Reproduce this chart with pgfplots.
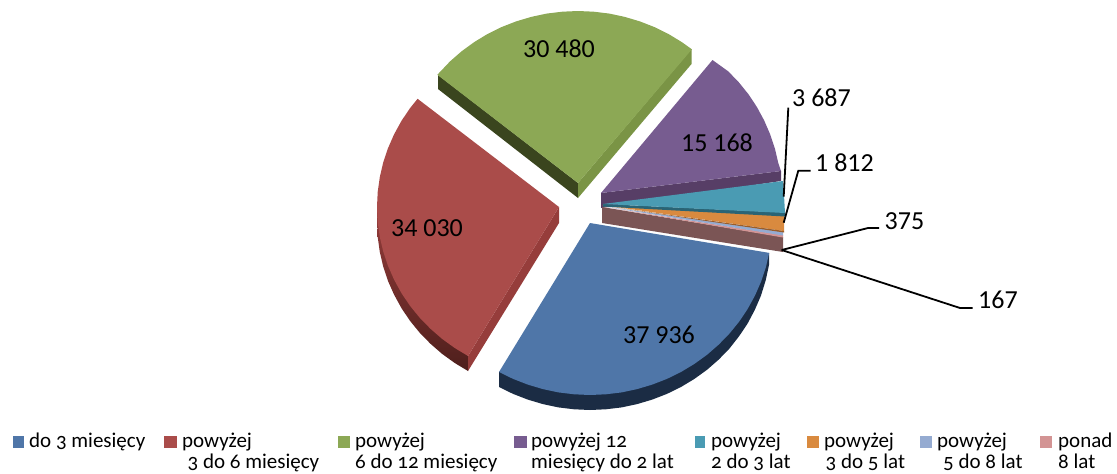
\documentclass[border=0pt]{standalone}
\usepackage{pgfplots}
\pgfplotsset{compat=1.18}
\usepackage{fontspec}
\setmainfont{Carlito}
\newfontfamily\legfont[Numbers=OldStyle]{Carlito}
\definecolor{cblue}{HTML}{4F76A8}
\definecolor{cblueS}{HTML}{1B2C44}
\definecolor{cred}{HTML}{AA4C4A}
\definecolor{credC}{HTML}{963D3B}
\definecolor{credD}{HTML}{4E1F1C}
\definecolor{cgreen}{HTML}{8CA855}
\definecolor{cgreenD}{HTML}{3A451E}
\definecolor{cgreenC}{HTML}{7A9445}
\definecolor{cpurple}{HTML}{775C90}
\definecolor{cpurpleS}{HTML}{573E66}
\definecolor{cteal}{HTML}{4A9BB3}
\definecolor{ctealS}{HTML}{2A6475}
\definecolor{corange}{HTML}{D98A3F}
\definecolor{corangeS}{HTML}{9A5D2A}
\definecolor{clblue}{HTML}{95ABD1}
\definecolor{cpink}{HTML}{D39494}
\definecolor{cbrown}{HTML}{7B5555}
\newcommand{\lab}[3]{\node[inner sep=0pt,anchor=center,font=\fontsize{26}{28}\selectfont,text=black] at (axis cs:#1,#2) {#3};}
\newcommand{\leg}[3]{\node[inner sep=0pt,anchor=base west,font=\legfont\fontsize{21}{24}\selectfont,text=black] at (axis cs:#1,#2) {#3};}
\begin{document}
\begin{tikzpicture}
\clip (0,0) rectangle (1117pt,474pt);
\begin{axis}[at={(0,0)},anchor=south west,scale only axis,width=1117pt,height=474pt,
  xmin=0,xmax=1117,ymin=0,ymax=474,y dir=reverse,hide axis,clip=false]
% purple
\addplot[fill=cpurpleS,draw=none] coordinates {(601,193)(781,171)(781,181)(601,208)} -- cycle;
\addplot[fill=cpurple,draw=none] coordinates {(601,193)(712.5,60)(728.3,71.4)(738.9,82.4)(748.5,94.3)(756.9,107)(764.1,120.3)(770.1,134.2)(774.9,148.5)(778.3,163.1)(781,171)} -- cycle;
% small slices
\addplot[fill=cbrown,draw=none] coordinates {(602,207)(783,237)(783,252)(602,223)} -- cycle;
\addplot[fill=cpink,draw=none] coordinates {(604,207)(783,235)(783,237.5)} -- cycle;
\addplot[fill=clblue,draw=none] coordinates {(604,206.5)(783,231)(783,235.5)} -- cycle;
\addplot[fill=corange,draw=none] coordinates {(602,205)(784,216)(784,231)} -- cycle;
\addplot[fill=corangeS,draw=none] coordinates {(602,205.5)(784,231)(784,232.5)} -- cycle;
\addplot[fill=ctealS,draw=none] coordinates {(603,204)(785,212.5)(785,216.5)(603,206.5)} -- cycle;
\addplot[fill=cteal,draw=none] coordinates {(603,204)(783,181)(784,195)(785,213)} -- cycle;
% green
\addplot[fill=cgreenD,draw=none] coordinates {(438,75)(438,89)(578,198)(578,183)} -- cycle;
\addplot[fill=cgreenC,draw=none] coordinates {(578,183)(578,198)(691.5,64)(691.5,49)} -- cycle;
\addplot[fill=cgreen,draw=none] coordinates {(578,183)(437.3,74.8)(450,61.4)(461.7,51.2)(474.2,42.1)(487.5,34)(501.5,27.1)(516.1,21.4)(531.2,16.9)(546.6,13.6)(562.2,11.7)(578,11)(593.8,11.7)(609.4,13.6)(624.8,16.9)(639.9,21.4)(654.5,27.1)(668.5,34)(681.8,42.1)(691.9,49.3)} -- cycle;
% red
\addplot[top color=credC,bottom color=credD,draw=none] coordinates {(377,207)(377.7,237)(379.8,252)(383.2,266.5)(388,281)(394.1,294.7)(401.4,308)(409.9,320.7)(419.6,332.6)(430.3,343.6)(442,353.8)(454.6,362.9)(468,371)(468,356)} -- cycle;
\addplot[fill=credC,draw=none] coordinates {(559,207)(559,223)(468,371)(468,356)} -- cycle;
\addplot[fill=cred,draw=none] coordinates {(559,207)(468,356)(454.6,347.9)(442,338.8)(430.3,328.6)(419.6,317.6)(409.9,305.7)(401.4,293)(394.1,279.7)(388,265.8)(383.2,251.5)(379.8,236.9)(377.7,222)(377,207)(377.7,192)(379.8,177.1)(383.2,162.5)(388,148.2)(394.1,134.3)(401.4,121)(409.9,108.3)(417.6,98.8)} -- cycle;
% blue
\addplot[fill=cblueS,draw=none] coordinates {(769.2,252.9)(769.2,264)(765.8,280)(761,295.5)(754.9,309.7)(747.6,323.5)(739.1,336.2)(729.4,348.6)(718.7,359.6)(707,369.8)(694.4,378.9)(681,387)(666.9,393.9)(652.2,399.6)(637.1,404.1)(621.6,407.4)(605.9,409.3)(590,410)(574.1,409.3)(558.4,407.4)(542.9,404.1)(527.8,399.6)(513.1,393.9)(499,387)(499,372)} -- cycle;
\addplot[fill=cblue,draw=none] coordinates {(590,223)(769.2,252.9)(765.8,267.5)(761,281.8)(754.9,295.7)(747.6,309)(739.1,321.7)(729.4,333.6)(718.7,344.6)(707,354.8)(694.4,363.9)(681,372)(666.9,378.9)(652.2,384.6)(637.1,389.1)(621.6,392.4)(605.9,394.3)(590,395)(574.1,394.3)(558.4,392.4)(542.9,389.1)(527.8,384.6)(513.1,378.9)(499,372)} -- cycle;
% leaders
\addplot[black,line width=1.8pt] coordinates {(788.3,107.7)(783.7,196.7)};
\addplot[black,line width=1.8pt] coordinates {(810.7,170.7)(798.3,170.7)(783.7,222.7)};
\addplot[black,line width=1.8pt] coordinates {(879,228)(868,228)(781.7,250)};
\addplot[black,line width=1.8pt] coordinates {(972.7,308)(960,308)(781.7,250)};
% data labels
\lab{559}{49}{30 480}
\lab{717}{143}{15 168}
\lab{427}{228}{34 030}
\lab{659}{335}{37 936}
\lab{821.5}{98}{3 687}
\lab{844.5}{163}{1 812}
\lab{904.5}{221}{375}
\lab{998}{300}{167}
% legend
\addplot[fill=cblue,draw=none] coordinates {(12.5,435.5)(24,435.5)(24,447.5)(12.5,447.5)} -- cycle;
\addplot[fill=cred,draw=none] coordinates {(164,435.5)(177,435.5)(177,447.5)(164,447.5)} -- cycle;
\addplot[fill=cgreen,draw=none] coordinates {(338,435.5)(350,435.5)(350,447.5)(338,447.5)} -- cycle;
\addplot[fill=cpurple,draw=none] coordinates {(514,435.5)(527,435.5)(527,447.5)(514,447.5)} -- cycle;
\addplot[fill=cteal,draw=none] coordinates {(694.5,435.5)(705,435.5)(705,447.5)(694.5,447.5)} -- cycle;
\addplot[fill=corange,draw=none] coordinates {(807,435.5)(819,435.5)(819,447.5)(807,447.5)} -- cycle;
\addplot[fill=clblue,draw=none] coordinates {(920,435.5)(932,435.5)(932,447.5)(920,447.5)} -- cycle;
\addplot[fill=cpink,draw=none] coordinates {(1040,435.5)(1052,435.5)(1052,447.5)(1040,447.5)} -- cycle;
\leg{29}{447}{do 3 miesięcy}
\leg{182}{447}{powyżej}
\leg{187.5}{468.5}{3 do 6 miesięcy}
\leg{355}{447}{powyżej}
\leg{355}{468.5}{6 do 12 miesięcy}
\leg{531}{447}{powyżej 12}
\leg{531}{468.5}{miesięcy do 2 lat}
\leg{711}{447}{powyżej}
\leg{711}{468.5}{2 do 3 lat}
\leg{824}{447}{powyżej}
\leg{825.5}{468.5}{3 do 5 lat}
\leg{937}{447}{powyżej}
\leg{943}{468.5}{5 do 8 lat}
\leg{1058}{447}{ponad}
\leg{1058}{468.5}{8 lat}
\end{axis}
\end{tikzpicture}
\end{document}
